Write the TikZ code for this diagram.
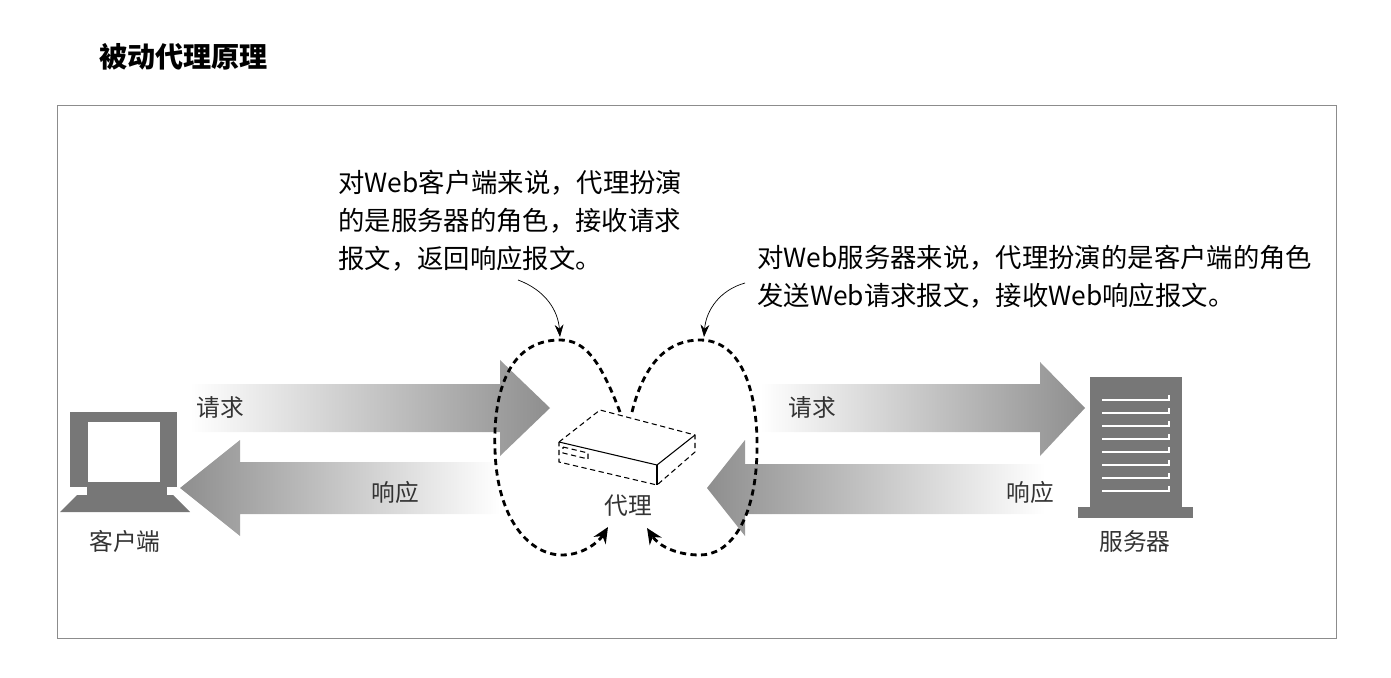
\documentclass[tikz,border=0pt]{standalone}
\usepackage{fontspec}
\setmainfont{Noto Sans CJK SC}
\usetikzlibrary{arrows.meta,positioning}
\definecolor{icongray}{HTML}{777777}
\definecolor{arrowgray}{HTML}{8E8E8E}
\tikzset{
  lbl/.style={font=\fontsize{13.5pt}{16pt}\selectfont, text=black!80, inner sep=0pt},
  note/.style={font=\fontsize{15pt}{21.5pt}\selectfont, align=left, anchor=north west, inner sep=0pt},
  loop/.style={line width=1.6pt, dash pattern=on 3.5pt off 2.5pt, -{Stealth[length=9pt,width=8pt]}},
  pointer/.style={thin, -{Stealth[length=7pt,width=5pt]}},
  boxline/.style={line width=0.6pt},
}
\begin{document}
\begin{tikzpicture}[x=0.02cm,y=-0.02cm]
\useasboundingbox (0,0) rectangle (1391,678);

\node[font=\fontsize{16pt}{18pt}\selectfont\bfseries, anchor=west] (title) at (93,57) {被动代理原理};
\draw[black!45] (57,105) rectangle (1336,638);

% fat arrows
\shade[left color=white, right color=arrowgray] (190,384) -- (500,384) -- (500,360) -- (550,408) -- (500,456) -- (500,432) -- (190,432) -- cycle;
\shade[left color=arrowgray, right color=white] (500,462) -- (240,462) -- (240,440) -- (180,488) -- (240,536) -- (240,514) -- (500,514) -- cycle;
\shade[left color=white, right color=arrowgray] (760,384) -- (1040,384) -- (1040,362) -- (1085,408) -- (1040,456) -- (1040,432) -- (760,432) -- cycle;
\shade[left color=arrowgray, right color=white] (1045,464) -- (745,464) -- (745,440) -- (707,488) -- (745,536) -- (745,514) -- (1045,514) -- cycle;
\node[lbl] (req1) at (220,408) {请求};
\node[lbl] (resp1) at (395,492) {响应};
\node[lbl] (req2) at (812,408) {请求};
\node[lbl] (resp2) at (1030,492) {响应};

% client
\fill[icongray] (70,412) rectangle (177,487);
\fill[white] (88,422) rectangle (160,482);
\fill[icongray] (87,487) rectangle (167,495);
\fill[icongray] (77,495) -- (173,495) -- (190,512) -- (60,512) -- cycle;
\node[lbl] (client) at (125,541) {客户端};

% server
\fill[icongray] (1090,377) rectangle (1182,507);
\fill[icongray] (1078,507) rectangle (1193,518);
\foreach \i in {0,...,7}
  \draw[white, line width=1.6pt] (1102,400+13*\i) -- (1169,400+13*\i) -- (1169,395+13*\i);
\node[lbl] (server) at (1135,541) {服务器};

% proxy box
\draw[boxline] (559,442) -- (657,465) -- (695,435);
\draw[boxline] (657,465) -- (657,485);
\draw[boxline, densely dashed] (559,442) -- (600,410) -- (695,435) -- (695,452) -- (657,485) -- (559,462) -- cycle;
\draw[boxline, densely dashed] (563,447) -- (588,453) -- (588,459) -- (563,453) -- cycle;
\node[lbl] (proxy) at (628,506) {代理};

% loops
\draw[loop] (620,412) .. controls (600,360) and (585,340) .. (560,340)
  .. controls (505,340) and (493,400) .. (495,450)
  .. controls (497,520) and (530,555) .. (562,555)
  .. controls (585,555) and (600,540) .. (608,527);
\draw[loop] (632,412) .. controls (645,360) and (670,340) .. (700,340)
  .. controls (745,340) and (758,400) .. (757,450)
  .. controls (756,520) and (730,555) .. (700,555)
  .. controls (675,555) and (658,545) .. (647,528);

% notes
\node[note] (clientnote) at (338,170) {对Web客户端来说，代理扮演\\的是服务器的角色，接收请求\\报文，返回响应报文。};
\node[note] (servernote) at (757,245) {对Web服务器来说，代理扮演的是客户端的角色\\发送Web请求报文，接收Web响应报文。};
\coordinate (ltop) at (560,337);
\coordinate (rtop) at (704,337);
\draw[pointer] (518,280) .. controls (545,290) and (558,310) .. (ltop);
\draw[pointer] (745,283) .. controls (720,290) and (706,310) .. (rtop);
\end{tikzpicture}
\end{document}
